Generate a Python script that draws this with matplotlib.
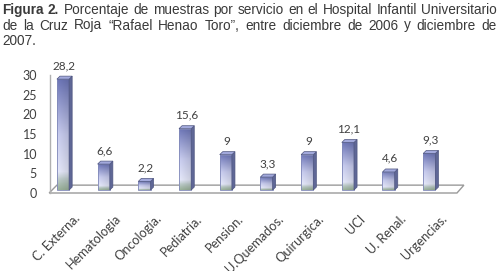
import numpy as np
import matplotlib
matplotlib.use("Agg")
import matplotlib.pyplot as plt
from matplotlib.colors import LinearSegmentedColormap
from matplotlib.patches import Polygon
from matplotlib.transforms import ScaledTranslation

servicios = ["C. Externa.", "Hematologia", "Oncologia.", "Pediatria.", "Pension.",
             "U.Quemados.", "Quirurgica.", "UCI", "U. Renal.", "Urgencias."]
porcentajes = [28.2, 6.6, 2.2, 15.6, 9, 3.3, 9, 12.1, 4.6, 9.3]
etiquetas = ["28,2", "6,6", "2,2", "15,6", "9", "3,3", "9", "12,1", "4,6", "9,3"]
yticks = [0, 5, 10, 15, 20, 25, 30]

titulo_l1 = [("Figura", "bold"), ("2.", "bold")] + [(w, "normal") for w in
             "Porcentaje de muestras por servicio en el Hospital Infantil Universitario".split()]
titulo_l2 = [(w, "normal") for w in
             "de la Cruz Roja \u201cRafael Henao Toro\u201d, entre diciembre de 2006 y diciembre de".split()]
titulo_l3 = "2007."

W, H = 501, 271
fig = plt.figure(figsize=(W / 100, H / 100), dpi=100)
fig.patch.set_facecolor("white")

# axes placed in pixels: bar centre 0 at x=63, 40.7 px per bar, y 0 at 193 px, 30 at 75 px
unit = 40.7
xmin, xmax = -0.4, 9.9
left_px = 63 + xmin * unit
right_px = 63 + xmax * unit
ax = fig.add_axes([left_px / W, (H - 193) / H, (right_px - left_px) / W, 118 / H])
ax.set_xlim(xmin, xmax)
ax.set_ylim(0, 30)
for s in ax.spines.values():
    s.set_visible(False)

chart_font = ["Lato", "DejaVu Sans"]
txt_col = "#404040"

# floor and vertical axis
floor = Polygon([(-0.34, 0), (-0.15, 2.0), (9.85, 2.0), (9.68, 0)], closed=True,
                facecolor="white", edgecolor="#9a9a9a", lw=1, clip_on=False, zorder=1)
ax.add_patch(floor)
ax.plot([-0.32, -0.32], [0, 30], color="#b0b0b0", lw=1, clip_on=False, zorder=1)

cmap = LinearSegmentedColormap.from_list("barra", [
    (0.0, "#9cb39c"), (0.08, "#b9c9c4"), (0.16, "#e6e9fb"),
    (0.5, "#c9cdf0"), (1.0, "#6e77b9")])

base = 0.75
bw = 0.3
dx = 0.075
dy = 0.76
xs = np.arange(len(servicios))
bars = ax.bar(xs, porcentajes, width=bw, bottom=base, color="none",
              edgecolor="#8088b8", lw=0.6, zorder=3)
for x, v, rect, lab in zip(xs, porcentajes, bars, etiquetas):
    x0, x1 = x - bw / 2, x + bw / 2
    grad = np.linspace(0, 1, 100)[:, None] * np.ones((1, 12))
    shade = np.linspace(0.0, 0.12, 12)[None, :]
    img = cmap(grad)
    img[..., :3] = np.clip(img[..., :3] * (1 - shade[..., None]), 0, 1)
    im = ax.imshow(img, extent=[x0, x1, base, base + v], origin="lower",
                   aspect="auto", zorder=2, interpolation="bilinear")
    im.set_clip_path(rect)
    top = base + v
    side = Polygon([(x1, base), (x1 + dx, base + dy), (x1 + dx, top + dy), (x1, top)],
                   closed=True, facecolor="#5f6796", edgecolor="#4f5680", lw=0.5, zorder=3)
    cap = Polygon([(x0, top), (x0 + dx, top + dy), (x1 + dx, top + dy), (x1, top)],
                  closed=True, facecolor="#a2a9dc", edgecolor="#4f5680", lw=0.5, zorder=3)
    ax.add_patch(side)
    ax.add_patch(cap)
    ax.text(x + 0.03, top + dy + 1.3, lab, ha="center", va="bottom",
            fontsize=8.5, color=txt_col, family=chart_font)

ax.set_xlim(xmin, xmax)
ax.set_ylim(0, 30)

ax.set_yticks(yticks)
ax.set_yticklabels([str(t) for t in yticks], family=chart_font, fontsize=9, color=txt_col)
ax.tick_params(axis="y", length=0, pad=7)
ax.set_xticks(xs)
ax.set_xticklabels(servicios, rotation=45, ha="right", va="top", rotation_mode="anchor",
                   family=chart_font, fontsize=9.2, color=txt_col)
ax.tick_params(axis="x", length=0, pad=14)
for t in ax.get_xticklabels():
    t.set_transform(t.get_transform() + ScaledTranslation(0.11, 0, fig.dpi_scale_trans))

# title, justified like the source document
title_col = "#3a3a3a"
renderer = fig.canvas.get_renderer()


def justified(words, y, x0, x1):
    objs = [fig.text(0, y, w, fontsize=9.8, fontweight=wt, color=title_col,
                     family=["Liberation Sans", "DejaVu Sans"], va="baseline",
                     transform=None) for w, wt in words]
    widths = [o.get_window_extent(renderer).width for o in objs]
    gap = (x1 - x0 - sum(widths)) / (len(objs) - 1)
    xp = x0
    for o, wd in zip(objs, widths):
        o.set_position((xp, y))
        xp += wd + gap


justified(titulo_l1, H - 14, 2, 497)
justified(titulo_l2, H - 29.5, 2, 497)
fig.text(2, H - 45, titulo_l3, fontsize=9.8, color=title_col,
         family=["Liberation Sans", "DejaVu Sans"], va="baseline", transform=None)

fig.savefig("out.png", dpi=100, facecolor="white")
